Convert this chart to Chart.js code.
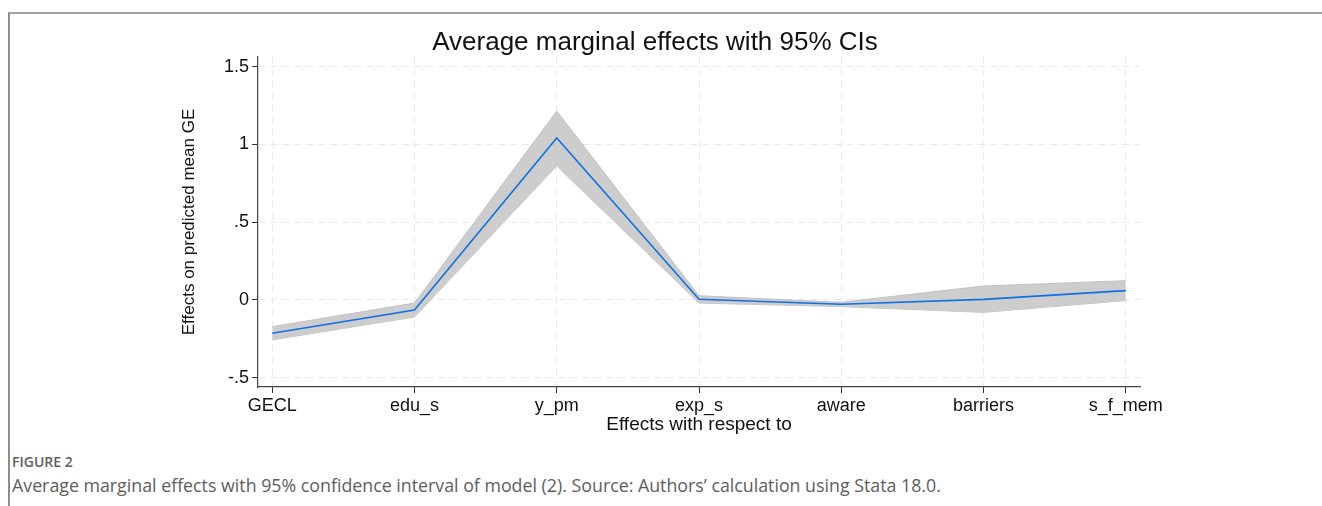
<!DOCTYPE html>
<html>
<head>
<meta charset="utf-8">
<script src="https://cdn.jsdelivr.net/npm/chart.js@4.4.1/dist/chart.umd.min.js"></script>
<style>
  html, body { margin: 0; padding: 0; background: #fff; }
  body { width: 1322px; height: 506px; position: relative; overflow: hidden; }
  #frame {
    position: absolute; left: 8px; top: 12px; right: 0; bottom: 0;
    border-top: 2px solid #a3a3a6; border-left: 2px solid #8d8d90;
  }
  #wrap { position: absolute; left: 0; top: 0; width: 1163px; height: 440px; }
  .fig-label {
    position: absolute; left: 12px; top: 452px;
    font: 600 14px "Open Sans", "Liberation Sans", sans-serif; color: #5e5e5e;
  }
  .fig-caption {
    position: absolute; left: 12px; top: 473px;
    font: 17.8px "Open Sans", "Liberation Sans", sans-serif; color: #5e5e5e;
  }
</style>
</head>
<body>
<div id="frame"></div>
<div id="wrap"><canvas id="ame-chart"></canvas></div>
<div class="fig-label">FIGURE 2</div>
<div class="fig-caption">Average marginal effects with 95% confidence interval of model (2). Source: Authors’ calculation using Stata 18.0.</div>

<script>
// ── Données ─────────────────────────────────────────────────────────
const categories = ["GECL", "edu_s", "y_pm", "exp_s", "aware", "barriers", "s_f_mem"];
const margins    = [-0.214, -0.065, 1.042, 0.004, -0.028, 0.004, 0.060];
const ciUpper    = [-0.172, -0.020, 1.215, 0.027, -0.015, 0.090, 0.124];
const ciLower    = [-0.257, -0.110, 0.862, -0.020, -0.043, -0.080, -0.004];
const yTicks     = [-0.5, 0, 0.5, 1, 1.5];

const FONT = '"Liberation Sans", Arial, sans-serif';

// ── Helpers ────────────────────────────────────────────────────────
const toPoints = (vals) => vals.map((v, i) => ({ x: i, y: v }));

function fmtTick(v) {
  if (v === 0) return "0";
  return String(v).replace(/^(-?)0\./, "$1.");
}

// ── Rendu ──────────────────────────────────────────────────────────
const ctx = document.getElementById("ame-chart");

new Chart(ctx, {
  type: "line",
  data: {
    datasets: [
      {
        label: "Effect",
        data: toPoints(margins),
        borderColor: "#1170e2",
        borderWidth: 1.6,
        pointRadius: 0,
        tension: 0,
        fill: false,
      },
      {
        label: "CI upper",
        data: toPoints(ciUpper),
        borderColor: "#c2c2c2",
        borderWidth: 1,
        backgroundColor: "#cdcdcd",
        pointRadius: 0,
        tension: 0,
        fill: "+1",
      },
      {
        label: "CI lower",
        data: toPoints(ciLower),
        borderColor: "#c2c2c2",
        borderWidth: 1,
        pointRadius: 0,
        tension: 0,
        fill: false,
      },
    ],
  },
  options: {
    responsive: true,
    maintainAspectRatio: false,
    animation: false,
    layout: { padding: { left: 170, right: 23, top: 0, bottom: 0 } },
    plugins: {
      legend: { display: false },
      tooltip: { enabled: false },
      title: {
        display: true,
        text: "Average marginal effects with 95% CIs",
        color: "#111",
        font: { family: FONT, size: 26, weight: "normal", lineHeight: 1 },
        padding: { top: 30, bottom: 1 },
      },
    },
    scales: {
      x: {
        type: "linear",
        min: -0.1,
        max: 6.1,
        afterBuildTicks: (s) => { s.ticks = categories.map((_, i) => ({ value: i })); },
        afterFit: (s) => { s.height = 53; s.paddingLeft = 0; s.paddingRight = 0; },
        ticks: {
          color: "#111",
          padding: 2,
          maxRotation: 0,
          autoSkip: false,
          font: { family: FONT, size: 18 },
          callback: (v) => categories[v] ?? "",
        },
        grid: { color: "#e9e9e9", lineWidth: 1, tickColor: "#333", tickLength: 6, tickWidth: 1 },
        border: { display: true, color: "#444", width: 1.2, dash: [7, 5] },
        title: {
          display: true,
          text: "Effects with respect to",
          color: "#111",
          font: { family: FONT, size: 19 },
          padding: { top: 0, bottom: 4 },
        },
      },
      y: {
        min: -0.56,
        max: 1.563,
        afterBuildTicks: (s) => { s.ticks = yTicks.map((v) => ({ value: v })); },
        afterFit: (s) => { s.width = 88; s.paddingTop = 0; s.paddingBottom = 0; },
        ticks: {
          color: "#111",
          padding: 3,
          font: { family: FONT, size: 18 },
          callback: (v) => fmtTick(v),
        },
        grid: { color: "#e9e9e9", lineWidth: 1, tickColor: "#333", tickLength: 6, tickWidth: 1 },
        border: { display: true, color: "#444", width: 1.2, dash: [7, 5] },
        title: {
          display: true,
          text: "Effects on predicted mean GE",
          color: "#111",
          font: { family: FONT, size: 17 },
          padding: { top: 9, bottom: 0 },
        },
      },
    },
  },
});
</script>
</body>
</html>
